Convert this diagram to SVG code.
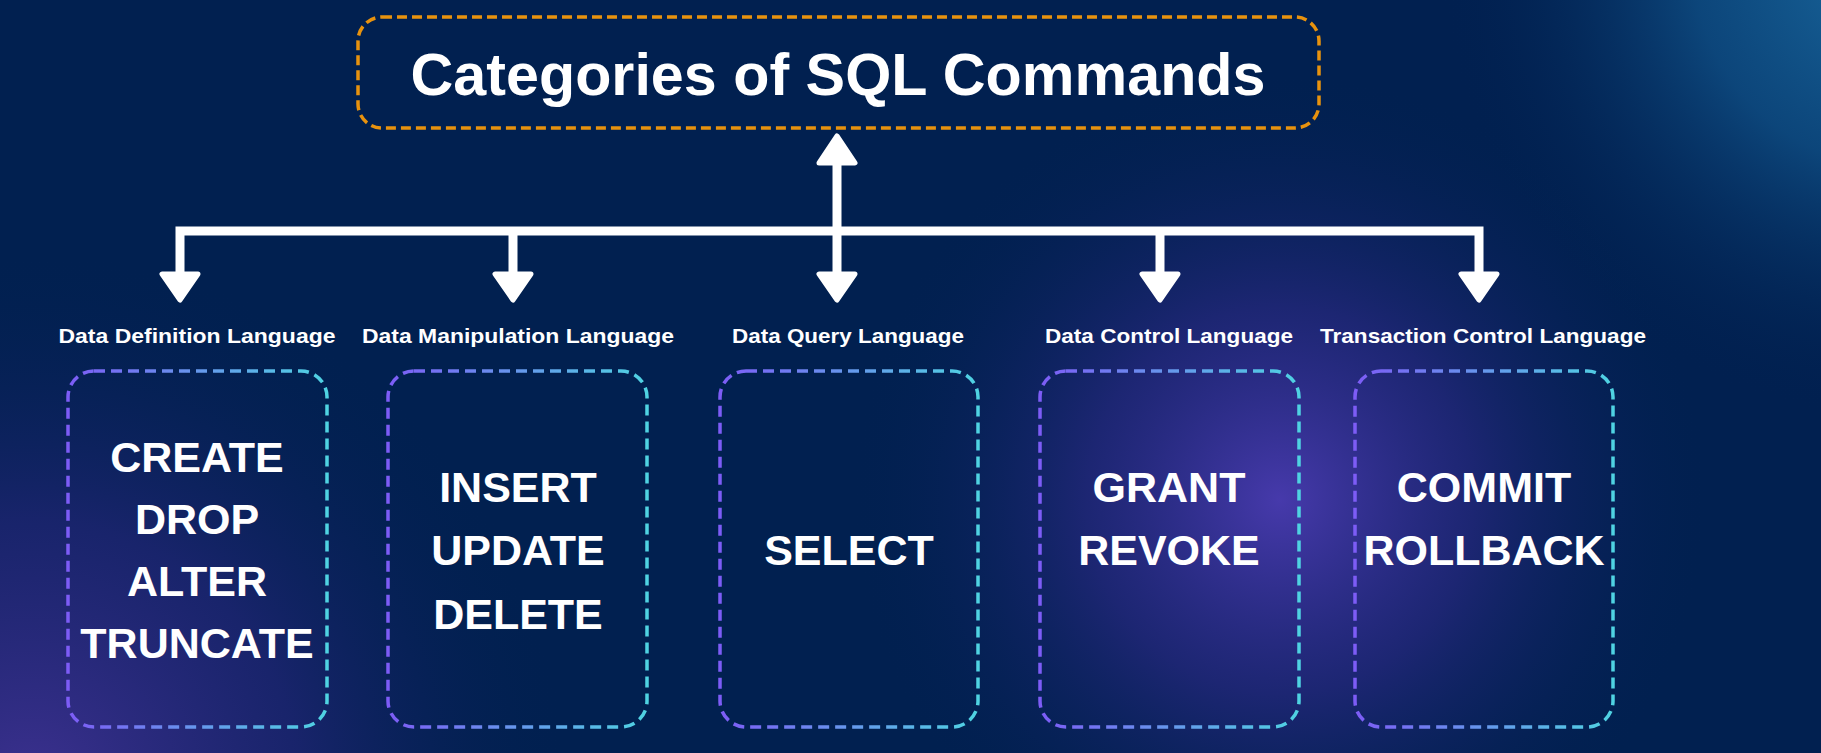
<svg xmlns="http://www.w3.org/2000/svg" width="1821" height="753" viewBox="0 0 1821 753">
  <defs>
    <radialGradient id="glowMid" cx="1280" cy="500" r="430" gradientUnits="userSpaceOnUse">
      <stop offset="0" stop-color="#4a3bb0" stop-opacity="0.95"/>
      <stop offset="0.45" stop-color="#2f2a8a" stop-opacity="0.6"/>
      <stop offset="1" stop-color="#012050" stop-opacity="0"/>
    </radialGradient>
    <radialGradient id="glowBL" cx="30" cy="790" r="540" gradientUnits="userSpaceOnUse">
      <stop offset="0" stop-color="#3d3190" stop-opacity="1"/>
      <stop offset="0.5" stop-color="#25267a" stop-opacity="0.65"/>
      <stop offset="1" stop-color="#012050" stop-opacity="0"/>
    </radialGradient>
    <radialGradient id="glowTR" cx="1900" cy="-40" r="460" gradientUnits="userSpaceOnUse">
      <stop offset="0" stop-color="#1a6aa0" stop-opacity="1"/>
      <stop offset="0.45" stop-color="#0f4f85" stop-opacity="0.8"/>
      <stop offset="1" stop-color="#012050" stop-opacity="0"/>
    </radialGradient>
    <linearGradient id="boxStroke" x1="0" y1="0" x2="1" y2="0">
      <stop offset="0" stop-color="#7d5cf6"/>
      <stop offset="1" stop-color="#4fd3e2"/>
    </linearGradient>
    <style>
      .title { font-family: "Liberation Sans", Arial, sans-serif; font-weight: bold; font-size: 59px; fill: #ffffff; }
      .label { font-family: "Liberation Sans", Arial, sans-serif; font-weight: bold; font-size: 21px; fill: #ffffff; }
      .cmd { font-family: "Liberation Sans", Arial, sans-serif; font-weight: bold; font-size: 43px; fill: #ffffff; }
      .box { fill: none; stroke: url(#boxStroke); stroke-width: 3.5; stroke-dasharray: 11 6; }
      .tbox { fill: none; stroke: #e8920e; stroke-width: 3.5; stroke-dasharray: 10 5; }
      .line { fill: none; stroke: #ffffff; stroke-width: 9; }
      .head { fill: #ffffff; stroke: #ffffff; stroke-width: 5; stroke-linejoin: round; }
    </style>
  </defs>

  <rect x="0" y="0" width="1821" height="753" fill="#012050"/>
  <rect x="0" y="0" width="1821" height="753" fill="url(#glowBL)"/>
  <rect x="0" y="0" width="1821" height="753" fill="url(#glowMid)"/>
  <rect x="0" y="0" width="1821" height="753" fill="url(#glowTR)"/>

  <g id="connectors">
    <path class="line" d="M837 231 V160"/>
    <path class="head" d="M837 136 L855 163 L819 163 Z"/>
    <path class="line" d="M180 275 V231 H1479 V275"/>
    <path class="line" d="M513 231 V275"/>
    <path class="line" d="M837 231 V275"/>
    <path class="line" d="M1160 231 V275"/>
    <path class="head" d="M162 274 L198 274 L180 300 Z"/>
    <path class="head" d="M495 274 L531 274 L513 300 Z"/>
    <path class="head" d="M819 274 L855 274 L837 300 Z"/>
    <path class="head" d="M1142 274 L1178 274 L1160 300 Z"/>
    <path class="head" d="M1461 274 L1497 274 L1479 300 Z"/>
  </g>

  <g id="title">
    <rect class="tbox" x="358" y="17" width="961" height="111" rx="24"/>
    <text class="title" x="838" y="95" text-anchor="middle" textLength="855" lengthAdjust="spacingAndGlyphs">Categories of SQL Commands</text>
  </g>

  <g id="ddl">
    <text class="label" x="197" y="343" text-anchor="middle" textLength="277" lengthAdjust="spacingAndGlyphs">Data Definition Language</text>
    <rect class="box" x="68" y="371" width="259" height="356" rx="26"/>
    <text class="cmd" x="197" y="472" text-anchor="middle">CREATE</text>
    <text class="cmd" x="197" y="534" text-anchor="middle">DROP</text>
    <text class="cmd" x="197" y="596" text-anchor="middle">ALTER</text>
    <text class="cmd" x="197" y="658" text-anchor="middle">TRUNCATE</text>
  </g>

  <g id="dml">
    <text class="label" x="518" y="343" text-anchor="middle" textLength="312" lengthAdjust="spacingAndGlyphs">Data Manipulation Language</text>
    <rect class="box" x="388" y="371" width="259" height="356" rx="26"/>
    <text class="cmd" x="518" y="502" text-anchor="middle">INSERT</text>
    <text class="cmd" x="518" y="565" text-anchor="middle">UPDATE</text>
    <text class="cmd" x="518" y="629" text-anchor="middle">DELETE</text>
  </g>

  <g id="dql">
    <text class="label" x="848" y="343" text-anchor="middle" textLength="232" lengthAdjust="spacingAndGlyphs">Data Query Language</text>
    <rect class="box" x="720" y="371" width="258" height="356" rx="26"/>
    <text class="cmd" x="849" y="565" text-anchor="middle">SELECT</text>
  </g>

  <g id="dcl">
    <text class="label" x="1169" y="343" text-anchor="middle" textLength="248" lengthAdjust="spacingAndGlyphs">Data Control Language</text>
    <rect class="box" x="1040" y="371" width="259" height="356" rx="26"/>
    <text class="cmd" x="1169" y="502" text-anchor="middle">GRANT</text>
    <text class="cmd" x="1169" y="565" text-anchor="middle">REVOKE</text>
  </g>

  <g id="tcl">
    <text class="label" x="1483" y="343" text-anchor="middle" textLength="326" lengthAdjust="spacingAndGlyphs">Transaction Control Language</text>
    <rect class="box" x="1355" y="371" width="258" height="356" rx="26"/>
    <text class="cmd" x="1484" y="502" text-anchor="middle">COMMIT</text>
    <text class="cmd" x="1484" y="565" text-anchor="middle">ROLLBACK</text>
  </g>
</svg>
